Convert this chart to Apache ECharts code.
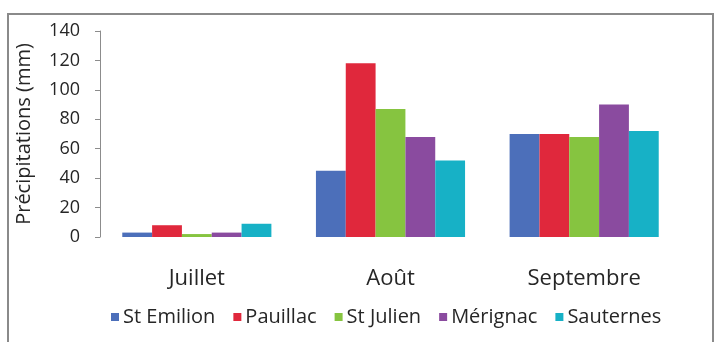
<!DOCTYPE html>
<html>
<head>
<meta charset="utf-8">
<style>
  html, body { margin: 0; padding: 0; background: #ffffff; }
  #chart { width: 715px; height: 342px; }
</style>
<script src="https://cdn.jsdelivr.net/npm/echarts@6/dist/echarts.min.js"></script>
</head>
<body>
<div id="chart"></div>
<script>
// Monthly rainfall (mm) at five Bordeaux stations
const months = ['Juillet', 'Août', 'Septembre'];
const stations = ['St Emilion', 'Pauillac', 'St Julien', 'Mérignac', 'Sauternes'];
const stEmilion = [3, 45, 70];
const pauillac = [8, 118, 70];
const stJulien = [2, 87, 68];
const merignac = [3, 68, 90];
const sauternes = [9, 52, 72];
const yTicks = { min: 0, max: 140, interval: 20 };

const stationValues = [stEmilion, pauillac, stJulien, merignac, sauternes];
const stationColors = ['#4c6fba', '#e0283c', '#86c440', '#8a4b9f', '#17b1c6'];

const chart = echarts.init(document.getElementById('chart'), null, { renderer: 'canvas' });
const font = '"Open Sans", sans-serif';

chart.setOption({
  animation: false,
  backgroundColor: '#ffffff',
  graphic: [
    {
      type: 'rect',
      shape: { x: 8, y: 14, width: 705, height: 340 },
      style: { fill: 'none', stroke: '#8a8a8a', lineWidth: 2 },
      silent: true
    }
  ],
  grid: { left: 100, right: 34, top: 31, bottom: 105, containLabel: false },
  legend: {
    data: stations,
    left: 106,
    top: 302,
    itemWidth: 8,
    itemHeight: 8,
    itemGap: 18,
    icon: 'rect',
    textStyle: { fontFamily: font, fontSize: 20, color: '#262626', padding: [0, 0, 0, -1] }
  },
  xAxis: {
    type: 'category',
    data: months,
    axisLine: { show: false },
    axisTick: { show: false },
    axisLabel: { fontFamily: font, fontSize: 22, color: '#262626', margin: 31 }
  },
  yAxis: {
    type: 'value',
    min: yTicks.min,
    max: yTicks.max,
    interval: yTicks.interval,
    name: 'Précipitations (mm)',
    nameLocation: 'middle',
    nameRotate: 90,
    nameGap: 66,
    nameTextStyle: { fontFamily: font, fontSize: 20, color: '#262626' },
    axisLine: { show: true, lineStyle: { color: '#8c8c8c', width: 1 } },
    axisTick: { show: true, inside: false, length: 5, lineStyle: { color: '#8c8c8c' } },
    axisLabel: { fontFamily: font, fontSize: 18, color: '#262626', margin: 20 },
    splitLine: { show: false }
  },
  series: stations.map((name, i) => ({
    name: name,
    type: 'bar',
    data: stationValues[i],
    barGap: '0%',
    barCategoryGap: '23%',
    itemStyle: { color: stationColors[i] }
  }))
});
</script>
</body>
</html>
